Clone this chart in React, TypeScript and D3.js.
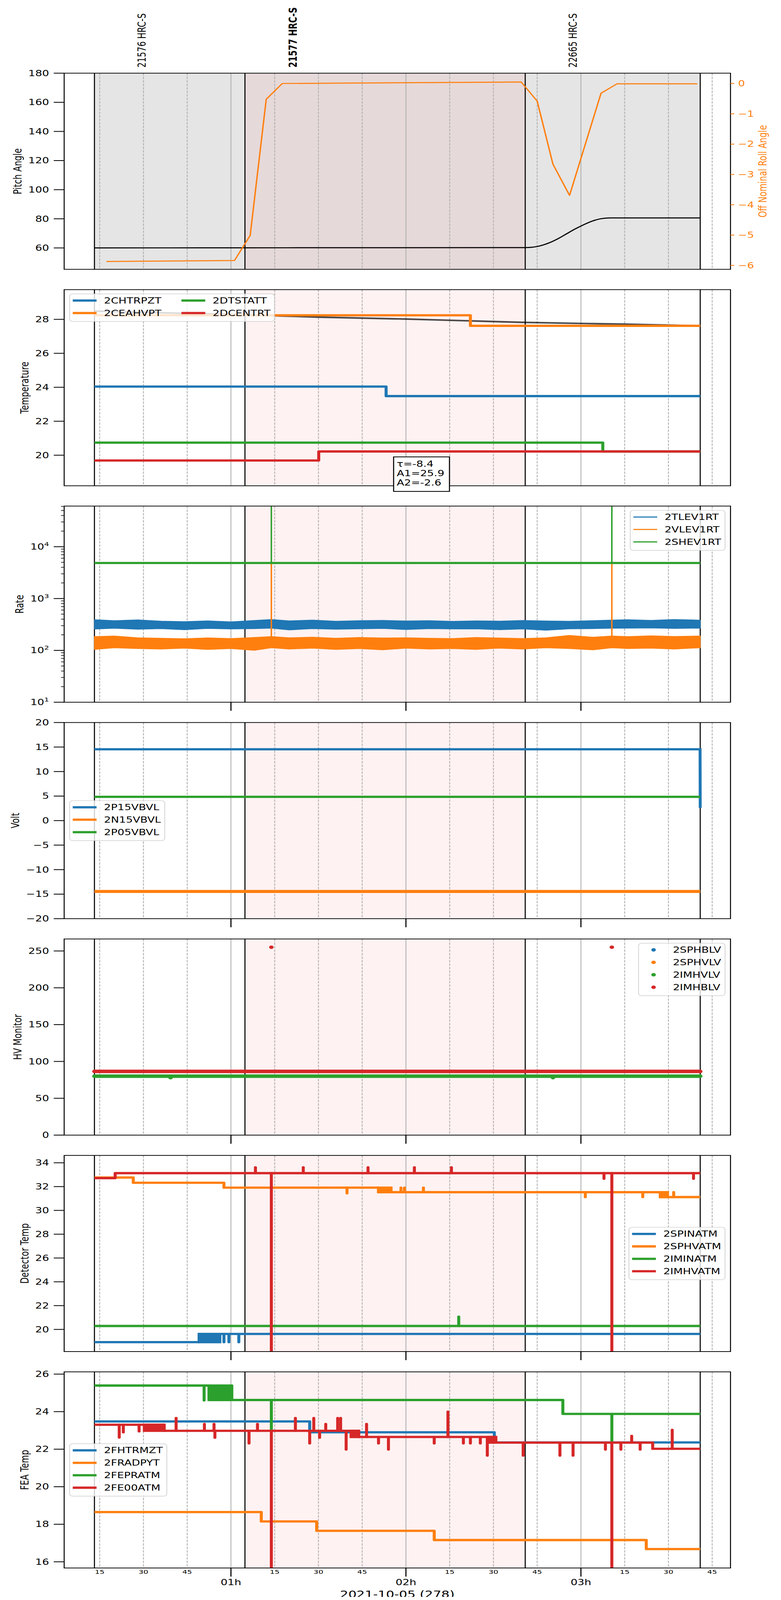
import React from "react";
import * as d3 from "d3";

// ---------- layout ----------
const width = 2000;
const height = 5400;
const marginLeft = 164.3;
const marginRight = 2000 - 1870.7;
const firstTop = 247;
const panelHeight = 662;
const panelStep = 730.5;
const FONT = '"DejaVu Sans", sans-serif';
const FS = 27.8;
const plotW = width - marginLeft - marginRight;
const panelTop = (i: number) => firstTop + i * panelStep;

const C = { blue: "#1f77b4", orange: "#ff7f0e", green: "#2ca02c", red: "#d62728" };

type Pt = [number, number];
type Block = [number, number, number];

// ---------- timeline, minutes after 2021-10-05 00:00 ----------
const obsBounds = [13.2, 64.8, 160.9, 220.9];
const obsNames = ["21576 HRC-S", "21577 HRC-S", "22665 HRC-S"];
const obsLabelTimes = [29.5, 81.3, 177.3];
const currentObs = 1;
const hourTicks = [60, 120, 180];
const hourLabels = ["01h", "02h", "03h"];
const minorTicks = [15, 30, 45, 75, 90, 105, 135, 150, 165, 195, 210, 225];
const minorLabels = ["15", "30", "45", "15", "30", "45", "15", "30", "45", "15", "30", "45"];
const dropTimes = [73.85, 190.6];

// ---------- pitch / roll ----------
const pitchTimes = [13.2, 64.8, 160.9, 163, 165, 167, 169, 172, 175, 178, 181, 184, 187, 190, 220.9];
const pitchValues = [60.0, 60.1, 60.2, 60.4, 61.0, 62.0, 63.4, 66.2, 69.6, 73.0, 76.0, 78.5, 80.1, 80.6, 80.6];
const rollTimes = [17.3, 61.2, 66.6, 72.1, 77.6, 95.9, 159.5, 165.0, 170.4, 176.1, 186.9, 192.4, 219.9];
const rollValues = [-5.87, -5.84, -5.01, -0.52, 0.0, 0.01, 0.05, -0.58, -2.66, -3.69, -0.32, -0.01, -0.01];
const pitchTicks = [60, 80, 100, 120, 140, 160, 180];
const rollTicks = [0, -1, -2, -3, -4, -5, -6];

// ---------- temperature ----------
const tempNames = ["2CHTRPZT", "2CEAHVPT", "2DTSTATT", "2DCENTRT"];
const tempChtrpzt: Pt[] = [[13.2, 24.04], [113.2, 23.48], [220.9, 23.48]];
const tempCeahvpt: Pt[] = [[13.2, 28.24], [142.1, 27.62], [220.9, 27.62]];
const tempDtstatt: Pt[] = [[13.2, 20.74], [187.5, 20.22], [220.9, 20.22]];
const tempDcentrt: Pt[] = [[13.2, 19.69], [90.1, 20.22], [220.9, 20.22]];
const fitTimes = [13.2, 40, 64.8, 90, 119.4, 140, 160.9, 193.8, 220.9];
const fitValues = [28.49, 28.37, 28.27, 28.13, 28.02, 27.92, 27.82, 27.72, 27.62];
const fitText = ["τ=-8.4", "A1=25.9", "A2=-2.6"];
const tempTicks = [20, 22, 24, 26, 28];

// ---------- rates ----------
const rateNames = ["2TLEV1RT", "2VLEV1RT", "2SHEV1RT"];
const rateTimes = [13.2, 20, 28, 36, 44, 52, 60, 68, 73.85, 80, 88, 96, 104, 112, 120, 128, 136, 144, 152, 160, 168, 176, 184, 190.6, 196, 204, 212, 220.9];
const tlevHi = [392, 375, 388, 368, 360, 372, 356, 378, 395, 372, 385, 366, 375, 380, 370, 376, 364, 372, 368, 378, 370, 365, 376, 385, 392, 380, 395, 384];
const tlevLo = [258, 266, 255, 262, 250, 264, 258, 262, 268, 248, 262, 255, 260, 264, 252, 262, 258, 260, 250, 258, 244, 260, 262, 266, 268, 270, 264, 268];
const vlevHi = [185, 190, 176, 172, 168, 175, 170, 178, 185, 176, 180, 172, 178, 174, 176, 172, 170, 178, 174, 170, 176, 195, 180, 190, 185, 192, 186, 190];
const vlevLo = [104, 112, 108, 106, 110, 104, 108, 100, 112, 106, 110, 104, 108, 102, 110, 106, 108, 104, 110, 106, 112, 108, 102, 112, 108, 110, 106, 112];
const shevLevel = 4850;
const shevSpikeTop = 1e6;
const rateTicks = [10, 100, 1000, 10000];
const rateTickLabels = ["10^1", "10^2", "10^3", "10^4"];

// ---------- voltages ----------
const voltNames = ["2P15VBVL", "2N15VBVL", "2P05VBVL"];
const voltP15: Pt[] = [[13.2, 14.54], [220.85, 14.54], [220.9, 2.59]];
const voltN15: Pt[] = [[13.2, -14.45], [220.9, -14.45]];
const voltP05: Pt[] = [[13.2, 4.85], [220.9, 4.85]];
const voltTicks = [-20, -15, -10, -5, 0, 5, 10, 15, 20];

// ---------- HV monitor ----------
const hvNames = ["2SPHBLV", "2SPHVLV", "2IMHVLV", "2IMHBLV"];
const hvImhvlv: Pt[] = [[13.2, 80.0], [220.9, 80.0]];
const hvImhblv: Pt[] = [[13.2, 86.5], [220.9, 86.5]];
const hvImhvlvOutliers: Pt[] = [[39.3, 78.0], [170.4, 78.0]];
const hvImhblvOutliers: Pt[] = [[73.85, 255.1], [190.6, 255.1]];
const hvTicks = [0, 50, 100, 150, 200, 250];

// ---------- detector temps ----------
const detNames = ["2SPINATM", "2SPHVATM", "2IMINATM", "2IMHVATM"];
const detSpinSteps: Pt[] = [[13.2, 18.93], [49.1, 19.62], [220.9, 19.62]];
const detSpinBlocks: Block[] = [[49.1, 56.2, 18.93]];
const detSpinSpikes: Pt[] = [[57.6, 18.93], [59.3, 18.93], [62.7, 18.93]];
const detSphvSteps: Pt[] = [[13.2, 32.76], [26.5, 32.32], [57.6, 31.91], [110.6, 31.53], [207.2, 31.12], [220.9, 31.12]];
const detSphvBlocks: Block[] = [[110.6, 114.9, 31.91], [207.2, 209.7, 31.53]];
const detSphvSpikes: Pt[] = [[99.8, 31.44], [118.3, 31.91], [119.5, 31.91], [126.0, 31.91], [181.5, 31.12], [201.2, 31.12], [211.8, 31.53]];
const detIminSteps: Pt[] = [[13.2, 20.29], [220.9, 20.29]];
const detIminSpikes: Pt[] = [[138.1, 21.07]];
const detImhvSteps: Pt[] = [[13.2, 32.71], [20.3, 33.13], [220.9, 33.13]];
const detImhvSpikes: Pt[] = [[68.4, 33.62], [73.85, 0], [84.8, 33.62], [107.0, 33.62], [122.9, 33.62], [135.6, 33.62], [187.9, 32.66], [190.6, 0], [218.6, 32.66]];
const detTicks = [20, 22, 24, 26, 28, 30, 32, 34];

// ---------- FEA temps ----------
const feaNames = ["2FHTRMZT", "2FRADPYT", "2FEPRATM", "2FE00ATM"];
const feaHtrSteps: Pt[] = [[13.2, 23.48], [87.0, 22.9], [150.3, 22.36], [220.9, 22.36]];
const feaRadSteps: Pt[] = [[13.2, 18.65], [70.4, 18.15], [89.4, 17.65], [129.7, 17.16], [202.4, 16.68], [220.9, 16.68]];
const feaPraSteps: Pt[] = [[13.2, 25.39], [52.5, 24.62], [173.8, 23.88], [220.9, 23.88]];
const feaPraBlocks: Block[] = [[52.5, 55.6, 25.39], [55.9, 59.6, 25.39]];
const feaPraSpikes: Pt[] = [[50.8, 24.6], [60.3, 25.39], [73.85, 23.03], [190.6, 22.39]];
const feaE00Steps: Pt[] = [[13.2, 23.3], [37.1, 22.98], [103.8, 22.65], [150.8, 22.35], [204.6, 22.02], [220.9, 22.02]];
const feaE00Blocks: Block[] = [[30.3, 37.1, 22.98], [101.2, 103.8, 22.65], [148.5, 150.8, 22.35]];
const feaE00Spikes: Pt[] = [
  [21.7, 22.62], [23.1, 22.9], [28.5, 22.95], [41.2, 23.66], [50.9, 23.34], [54.2, 23.34], [54.5, 22.61],
  [66.2, 22.31], [69.1, 23.34], [73.85, 0], [82.1, 23.66], [87.0, 22.31], [88.4, 23.66], [90.4, 22.61],
  [92.5, 23.34], [96.6, 23.66], [97.6, 23.66], [99.5, 21.98], [106.5, 23.34], [110.6, 22.31], [114.0, 21.98],
  [129.7, 22.31], [134.4, 24.0], [139.7, 22.31], [142.1, 22.31], [145.5, 22.31], [147.9, 21.66], [160.2, 21.66],
  [172.8, 21.66], [177.3, 21.66], [188.4, 21.98], [190.6, 0], [193.7, 21.98], [197.4, 22.71], [200.3, 21.98],
  [211.3, 23.03],
];
const feaTicks = [16, 18, 20, 22, 24, 26];

// ---------- scales ----------
const span = obsBounds[3] - obsBounds[0];
const x = d3
  .scaleLinear()
  .domain([obsBounds[0] - 0.05 * span, obsBounds[3] + 0.05 * span])
  .range([marginLeft, width - marginRight]);

const yRange = (i: number): [number, number] => [panelTop(i) + panelHeight, panelTop(i)];
const yPitch = d3.scaleLinear().domain([45.3, 180]).range(yRange(0));
const yRoll = d3.scaleLinear().domain([-6.13, 0.34]).range(yRange(0));
const yTemp = d3.scaleLinear().domain([18.2, 29.75]).range(yRange(1));
const yRate = d3.scaleLog().domain([10, 60800]).range(yRange(2));
const yVolt = d3.scaleLinear().domain([-20, 20]).range(yRange(3));
const yHV = d3.scaleLinear().domain([0, 266.3]).range(yRange(4));
const yDet = d3.scaleLinear().domain([18.14, 34.62]).range(yRange(5));
const yFea = d3.scaleLinear().domain([15.67, 26.12]).range(yRange(6));

// ---------- helpers ----------
const measureCtx =
  typeof document !== "undefined" ? document.createElement("canvas").getContext("2d") : null;
function textWidth(s: string, size = FS, weight = "normal") {
  if (!measureCtx) return s.length * size * 0.62;
  measureCtx.font = `${weight} ${size}px "DejaVu Sans"`;
  return measureCtx.measureText(s).width;
}
const minus = (v: number) => (v < 0 ? "\u2212" + Math.abs(v) : String(v));
function labelWidth(l: string) {
  if (l.includes("^")) {
    const [b, e] = l.split("^");
    return textWidth(b) + textWidth(e, 19.5);
  }
  return textWidth(l);
}

function Background({ index, grayAll }: { index: number; grayAll?: boolean }) {
  const top = panelTop(index);
  const bottom = top + panelHeight;
  return (
    <g>
      {grayAll && (
        <rect x={x(obsBounds[0])} width={x(obsBounds[3]) - x(obsBounds[0])} y={top} height={panelHeight} fill="#e5e5e5" />
      )}
      <rect
        x={x(obsBounds[currentObs])}
        width={x(obsBounds[currentObs + 1]) - x(obsBounds[currentObs])}
        y={top}
        height={panelHeight}
        fill="#ff0000"
        fillOpacity={0.05}
      />
      {minorTicks.map((t) => (
        <line key={"m" + t} x1={x(t)} x2={x(t)} y1={top} y2={bottom} stroke="#b0b0b0" strokeWidth={2.2} strokeDasharray="8.2 3.6" />
      ))}
      {hourTicks.map((t) => (
        <line key={"h" + t} x1={x(t)} x2={x(t)} y1={top} y2={bottom} stroke="#b0b0b0" strokeWidth={2.2} />
      ))}
      {obsBounds.map((t) => (
        <line key={"o" + t} x1={x(t)} x2={x(t)} y1={top} y2={bottom} stroke="#000" strokeWidth={2.7} />
      ))}
    </g>
  );
}

function TickLabel({ label, px, py }: { label: string; px: number; py: number }) {
  if (label.includes("^")) {
    const [b, e] = label.split("^");
    return (
      <text x={px} y={py + 9.7} textAnchor="end">
        <tspan>{b}</tspan>
        <tspan fontSize={19.5} dy={-12}>{e}</tspan>
      </text>
    );
  }
  return (
    <text x={px} y={py} dy="0.35em" textAnchor="end">
      {label}
    </text>
  );
}

function Panel({
  index,
  y,
  ticks,
  labels,
  title,
  grayAll = false,
  hourMarks = true,
  minorY = [],
  children,
  overlay,
}: {
  index: number;
  y: (v: number) => number;
  ticks: number[];
  labels: string[];
  title: string;
  grayAll?: boolean;
  hourMarks?: boolean;
  minorY?: number[];
  children?: React.ReactNode;
  overlay?: React.ReactNode;
}) {
  const top = panelTop(index);
  const bottom = top + panelHeight;
  const labelRight = marginLeft - 26.7 - 12;
  const titleX = labelRight - (d3.max(labels, labelWidth) ?? 0) - 27.3;
  return (
    <g>
      <defs>
        <clipPath id={`clip-${index}`}>
          <rect x={marginLeft} y={top} width={plotW} height={panelHeight} />
        </clipPath>
      </defs>
      <Background index={index} grayAll={grayAll} />
      <g clipPath={`url(#clip-${index})`}>{children}</g>
      <rect x={marginLeft} y={top} width={plotW} height={panelHeight} fill="none" stroke="#000" strokeWidth={2.5} />
      {ticks.map((v, i) => (
        <g key={"yt" + v}>
          <line x1={marginLeft - 26.7} x2={marginLeft} y1={y(v)} y2={y(v)} stroke="#000" strokeWidth={2.7} />
          <TickLabel label={labels[i]} px={labelRight} py={y(v)} />
        </g>
      ))}
      {minorY.map((v) => (
        <line key={"ym" + v} x1={marginLeft - 8} x2={marginLeft} y1={y(v)} y2={y(v)} stroke="#000" strokeWidth={2} />
      ))}
      {hourMarks &&
        hourTicks.map((t) => (
          <line key={"ht" + t} x1={x(t)} x2={x(t)} y1={bottom} y2={bottom + 29} stroke="#000" strokeWidth={2.8} />
        ))}
      <text transform={`translate(${titleX},${top + panelHeight / 2}) rotate(-90)`} textAnchor="middle" dy="0.35em">
        {title}
      </text>
      {overlay}
    </g>
  );
}

type StepSeries = { name: string; color: string; steps: Pt[]; spikes?: Pt[]; blocks?: Block[] };

function StepLines({ series, y, lw }: { series: StepSeries[]; y: (v: number) => number; lw: number }) {
  const line = d3
    .line<Pt>()
    .x((d) => x(d[0]))
    .y((d) => y(d[1]))
    .curve(d3.curveStepAfter);
  return (
    <g>
      {series.map((s) => {
        const base = (t: number) => {
          let v = s.steps[0][1];
          for (const [st, sv] of s.steps) if (st <= t) v = sv;
          return v;
        };
        return (
          <g key={s.name}>
            <path d={line(s.steps) ?? ""} fill="none" stroke={s.color} strokeWidth={lw} strokeLinejoin="round" />
            {(s.blocks ?? []).map(([a, b, alt]) => {
              const y0 = Math.min(y(base(a)), y(alt)) - lw / 2;
              const y1 = Math.max(y(base(a)), y(alt)) + lw / 2;
              return <rect key={"b" + a} x={x(a) - lw / 2} width={x(b) - x(a) + lw} y={y0} height={y1 - y0} fill={s.color} />;
            })}
            {(s.spikes ?? []).map(([t, tip]) => (
              <line
                key={"s" + t}
                x1={x(t)}
                x2={x(t)}
                y1={y(base(t))}
                y2={y(tip)}
                stroke={s.color}
                strokeWidth={lw}
                strokeLinecap="round"
              />
            ))}
          </g>
        );
      })}
    </g>
  );
}

type LegendItem = { name: string; color: string };
function Legend({
  index,
  items,
  loc,
  ncol = 1,
  lw = 7.7,
  dots = false,
}: {
  index: number;
  items: LegendItem[];
  loc: "upper left" | "upper right" | "center left" | "center right";
  ncol?: number;
  lw?: number;
  dots?: boolean;
}) {
  const rowH = 42;
  const rows = Math.ceil(items.length / ncol);
  const boxH = rows * rowH + 9;
  const cols = d3.range(ncol).map((c) => items.slice(c * rows, c * rows + rows));
  const colW = cols.map((col) => 61 + 19 + (d3.max(col, (d) => textWidth(d.name)) ?? 0));
  const boxW = 8 + d3.sum(colW) + 51 * (ncol - 1) + 10;
  const top0 = panelTop(index);
  const left = loc.endsWith("left") ? marginLeft + 14 : width - marginRight - 14 - boxW;
  const top = loc.startsWith("upper") ? top0 + 14.4 : top0 + panelHeight / 2 - boxH / 2;
  let cx = left + 8;
  return (
    <g>
      <rect x={left} y={top} width={boxW} height={boxH} rx={8} fill="#fff" fillOpacity={0.8} stroke="#cccccc" strokeOpacity={0.8} strokeWidth={2.2} />
      {cols.map((col, ci) => {
        const colLeft = cx;
        cx += colW[ci] + 51;
        return col.map((it, ri) => {
          const cy = top + 22.5 + ri * rowH;
          return (
            <g key={it.name}>
              {dots ? (
                <circle cx={colLeft + 30.5} cy={cy} r={5.8} fill={it.color} />
              ) : (
                <line x1={colLeft} x2={colLeft + 61} y1={cy} y2={cy} stroke={it.color} strokeWidth={lw} />
              )}
              <text x={colLeft + 80} y={cy} dy="0.35em">
                {it.name}
              </text>
            </g>
          );
        });
      })}
    </g>
  );
}

const colors = [C.blue, C.orange, C.green, C.red];
const legendItems = (names: string[]) => names.map((n, i) => ({ name: n, color: colors[i] }));

export default function App() {
  // the headless window can be shorter than the figure: fit the whole figure in it
  const viewH =
    typeof window !== "undefined" && window.innerHeight > 0 ? Math.min(height, window.innerHeight) : height;

  // ----- panel 0: pitch & roll -----
  const pitchLine = d3
    .line<number>()
    .x((_, i) => x(pitchTimes[i]))
    .y((d) => yPitch(d))
    .curve(d3.curveMonotoneX);
  const rollLine = d3
    .line<number>()
    .x((_, i) => x(rollTimes[i]))
    .y((d) => yRoll(d));
  const right = width - marginRight;
  const rollLabelRight = right + 19.4 + (d3.max(rollTicks, (v) => textWidth(minus(v))) ?? 0);

  // ----- panel 1: temperature -----
  const fitLine = d3
    .line<number>()
    .x((_, i) => x(fitTimes[i]))
    .y((d) => yTemp(d))
    .curve(d3.curveMonotoneX);
  const tempSeries: StepSeries[] = [tempChtrpzt, tempCeahvpt, tempDtstatt, tempDcentrt].map((steps, i) => ({
    name: tempNames[i],
    color: colors[i],
    steps,
  }));
  const boxTop = panelTop(1) + 564.5;

  // ----- panel 2: rates -----
  const band = (hi: number[], lo: number[]) =>
    d3
      .area<number>()
      .x((_, i) => x(rateTimes[i]))
      .y0((_, i) => yRate(lo[i]))
      .y1((d) => yRate(d))(hi) ?? "";
  const minorRate: number[] = [];
  for (const dec of [10, 100, 1000, 10000])
    for (let k = 2; k <= 9; k++) if (dec * k < 60800) minorRate.push(dec * k);
  const vlevMid = (i: number) => Math.sqrt(vlevHi[i] * vlevLo[i]);

  // ----- panel 3/4: simple lines -----
  const lin = (y: (v: number) => number) =>
    d3
      .line<Pt>()
      .x((d) => x(d[0]))
      .y((d) => y(d[1]));

  // ----- panel 5/6: temps -----
  const detSeries: StepSeries[] = [
    { name: detNames[0], color: C.blue, steps: detSpinSteps, spikes: detSpinSpikes, blocks: detSpinBlocks },
    { name: detNames[1], color: C.orange, steps: detSphvSteps, spikes: detSphvSpikes, blocks: detSphvBlocks },
    { name: detNames[2], color: C.green, steps: detIminSteps, spikes: detIminSpikes },
    { name: detNames[3], color: C.red, steps: detImhvSteps, spikes: detImhvSpikes },
  ];
  const feaSeries: StepSeries[] = [
    { name: feaNames[0], color: C.blue, steps: feaHtrSteps },
    { name: feaNames[1], color: C.orange, steps: feaRadSteps },
    { name: feaNames[2], color: C.green, steps: feaPraSteps, spikes: feaPraSpikes, blocks: feaPraBlocks },
    { name: feaNames[3], color: C.red, steps: feaE00Steps, spikes: feaE00Spikes, blocks: feaE00Blocks },
  ];

  const lastBottom = panelTop(6) + panelHeight;

  return (
    <div style={{ margin: -8, width, height: viewH }}>
      <svg
        width={width}
        height={viewH}
        viewBox={`0 0 ${width} ${height}`}
        preserveAspectRatio="none"
        style={{ display: "block" }}
        fontFamily={FONT}
        fontSize={FS}
      >
        <rect width={width} height={height} fill="#fff" />

        {/* obsid labels */}
        {obsNames.map((n, i) => (
          <text
            key={n}
            transform={`translate(${x(obsLabelTimes[i])},${firstTop - 19}) rotate(-90)`}
            dy="0.35em"
            fontWeight={i === currentObs ? "bold" : "normal"}
          >
            {n}
          </text>
        ))}

        {/* 0: pitch / roll */}
        <Panel
          index={0}
          y={yPitch}
          ticks={pitchTicks}
          labels={pitchTicks.map(String)}
          title="Pitch Angle"
          grayAll
          hourMarks={false}
          overlay={
            <g>
              {rollTicks.map((v) => (
                <g key={"r" + v}>
                  <line x1={right} x2={right + 9.7} y1={yRoll(v)} y2={yRoll(v)} stroke={C.orange} strokeWidth={2.7} />
                  <text x={right + 19.4} y={yRoll(v)} dy="0.35em" fill={C.orange}>
                    {minus(v)}
                  </text>
                </g>
              ))}
              <text
                transform={`translate(${rollLabelRight + 22},${panelTop(0) + panelHeight / 2}) rotate(-90)`}
                textAnchor="middle"
                dy="0.35em"
                fill={C.orange}
              >
                Off Nominal Roll Angle
              </text>
            </g>
          }
        >
          <path d={pitchLine(pitchValues) ?? ""} fill="none" stroke="#000" strokeWidth={3.6} />
          <path d={rollLine(rollValues) ?? ""} fill="none" stroke={C.orange} strokeWidth={3.6} strokeLinejoin="round" />
        </Panel>

        {/* 1: temperature */}
        <Panel
          index={1}
          y={yTemp}
          ticks={tempTicks}
          labels={tempTicks.map(String)}
          title="Temperature"
          hourMarks={false}
          overlay={
            <g>
              <Legend index={1} items={legendItems(tempNames)} loc="upper left" ncol={2} />
              <rect x={1008} y={boxTop} width={143} height={116.5} fill="#fff" stroke="#000" strokeWidth={2.7} />
              {fitText.map((t, i) => (
                <text key={t} x={1016} y={boxTop + 24 + i * 31.2} dy="0.35em">
                  {t}
                </text>
              ))}
            </g>
          }
        >
          <path d={fitLine(fitValues) ?? ""} fill="none" stroke="#000" strokeOpacity={0.7} strokeWidth={5.5} />
          <StepLines series={tempSeries} y={yTemp} lw={7.7} />
        </Panel>

        {/* 2: rates */}
        <Panel
          index={2}
          y={yRate}
          ticks={rateTicks}
          labels={rateTickLabels}
          title="Rate"
          minorY={minorRate}
          overlay={<Legend index={2} items={legendItems(rateNames)} loc="upper right" lw={3.7} />}
        >
          <path d={band(tlevHi, tlevLo)} fill={C.blue} stroke={C.blue} strokeWidth={2} />
          <path d={band(vlevHi, vlevLo)} fill={C.orange} stroke={C.orange} strokeWidth={2} />
          {dropTimes.map((t) => {
            const i = rateTimes.indexOf(t);
            return (
              <line key={"vs" + t} x1={x(t)} x2={x(t)} y1={yRate(vlevMid(i))} y2={yRate(shevLevel)} stroke={C.orange} strokeWidth={3.7} />
            );
          })}
          <line
            x1={x(rateTimes[0])}
            x2={x(rateTimes[rateTimes.length - 1])}
            y1={yRate(shevLevel)}
            y2={yRate(shevLevel)}
            stroke={C.green}
            strokeWidth={7.4}
          />
          {dropTimes.map((t) => (
            <line key={"gs" + t} x1={x(t)} x2={x(t)} y1={yRate(shevLevel)} y2={yRate(shevSpikeTop)} stroke={C.green} strokeWidth={3.7} />
          ))}
        </Panel>

        {/* 3: volts */}
        <Panel
          index={3}
          y={yVolt}
          ticks={voltTicks}
          labels={voltTicks.map(minus)}
          title="Volt"
          overlay={<Legend index={3} items={legendItems(voltNames)} loc="center left" />}
        >
          <path d={lin(yVolt)(voltP15) ?? ""} fill="none" stroke={C.blue} strokeWidth={7.5} />
          <path d={lin(yVolt)(voltN15) ?? ""} fill="none" stroke={C.orange} strokeWidth={10} />
          <path d={lin(yVolt)(voltP05) ?? ""} fill="none" stroke={C.green} strokeWidth={7.5} />
        </Panel>

        {/* 4: HV monitor */}
        <Panel
          index={4}
          y={yHV}
          ticks={hvTicks}
          labels={hvTicks.map(String)}
          title="HV Monitor"
          overlay={<Legend index={4} items={legendItems(hvNames)} loc="upper right" dots />}
        >
          <path d={lin(yHV)(hvImhvlv) ?? ""} fill="none" stroke={C.green} strokeWidth={11.7} strokeLinecap="round" />
          {hvImhvlvOutliers.map(([t, v]) => (
            <circle key={"go" + t} cx={x(t)} cy={yHV(v)} r={5.8} fill={C.green} />
          ))}
          <path d={lin(yHV)(hvImhblv) ?? ""} fill="none" stroke={C.red} strokeWidth={11.7} strokeLinecap="round" />
          {hvImhblvOutliers.map(([t, v]) => (
            <circle key={"ro" + t} cx={x(t)} cy={yHV(v)} r={5.8} fill={C.red} />
          ))}
        </Panel>

        {/* 5: detector temps */}
        <Panel
          index={5}
          y={yDet}
          ticks={detTicks}
          labels={detTicks.map(String)}
          title="Detector Temp"
          overlay={<Legend index={5} items={legendItems(detNames)} loc="center right" />}
        >
          <StepLines series={detSeries} y={yDet} lw={7.7} />
        </Panel>

        {/* 6: FEA temps */}
        <Panel
          index={6}
          y={yFea}
          ticks={feaTicks}
          labels={feaTicks.map(String)}
          title="FEA Temp"
          overlay={<Legend index={6} items={legendItems(feaNames)} loc="center left" />}
        >
          <StepLines series={feaSeries} y={yFea} lw={7.7} />
        </Panel>

        {/* bottom time axis */}
        {minorTicks.map((t, i) => (
          <text key={"ml" + t} x={x(t)} y={lastBottom + 13.5} dy="0.35em" textAnchor="middle" fontSize={19.5}>
            {minorLabels[i]}
          </text>
        ))}
        {hourTicks.map((t, i) => (
          <text key={"hl" + t} x={x(t)} y={lastBottom + 48} dy="0.35em" textAnchor="middle">
            {hourLabels[i]}
          </text>
        ))}
        <text x={marginLeft + plotW / 2} y={lastBottom + 88} dy="0.35em" textAnchor="middle" fontSize={33.3}>
          2021-10-05 (278)
        </text>
      </svg>
    </div>
  );
}
